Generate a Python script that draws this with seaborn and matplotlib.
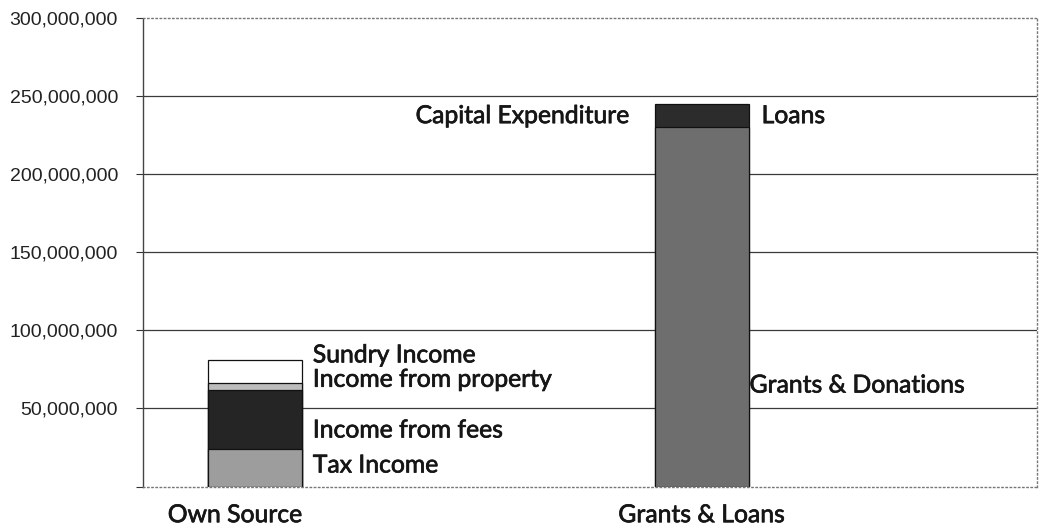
import matplotlib
matplotlib.use("Agg")
import matplotlib.pyplot as plt
import matplotlib.patheffects as pe
from matplotlib.transforms import ScaledTranslation
from matplotlib.ticker import FuncFormatter
import seaborn as sns
import pandas as pd

# Revenue sources, stacked per category (bottom segment first)
categories = ["Own Source", "Grants & Loans"]
own_labels = ["Tax Income", "Income from fees", "Income from property", "Sundry Income"]
own_values = [24_000_000, 38_000_000, 4_000_000, 15_000_000]
grant_labels = ["Grants & Donations", "Loans"]
grant_values = [230_000_000, 15_000_000]
y_ticks = [0, 50_000_000, 100_000_000, 150_000_000, 200_000_000, 250_000_000, 300_000_000]

own_colors = ["#9d9d9d", "#252525", "#bcbcbc", "#ffffff"]
grant_colors = ["#6e6e6e", "#2c2c2c"]

sns.set_theme(style="white")
plt.rcParams["font.family"] = ["Liberation Sans", "DejaVu Sans"]
thicken = [pe.withStroke(linewidth=0.5, foreground="#161616")]
label_font = dict(family="Lato", fontsize=17.8, fontweight="normal", color="#161616",
                  path_effects=thicken)

fig = plt.figure(figsize=(10.39, 5.30), dpi=100)
ax = fig.add_axes([0.1376, 0.082, 0.8604, 0.884])

# Build long-form table of cumulative tops for each segment
rows = []
for cat, labels, values, colors in [
    (categories[0], own_labels, own_values, own_colors),
    (categories[1], grant_labels, grant_values, grant_colors),
]:
    top = 0
    for lab, val, col in zip(labels, values, colors):
        top += val
        rows.append(dict(category=cat, segment=lab, top=top, bottom=top - val, color=col))
df = pd.DataFrame(rows)

# Draw tallest cumulative segments first so lower segments sit on top
for _, r in df.sort_values("top", ascending=False).iterrows():
    sns.barplot(
        x=[r["category"]], y=[r["top"]], order=categories, ax=ax,
        color=r["color"], saturation=1, width=0.21,
        edgecolor="#111111", linewidth=0.9,
    )

ax.set_ylim(0, 300_000_000)
ax.set_xlim(-0.25, 1.75)
ax.set_xlabel("")
ax.set_ylabel("")

ax.set_yticks(y_ticks)
ax.yaxis.set_major_formatter(FuncFormatter(lambda v, p: "" if v == 0 else f"{v:,.0f}"))
ax.tick_params(axis="y", which="major", left=True, length=5, width=0.8, color="#333333",
               labelsize=14, pad=13, labelcolor="#222222")
ax.tick_params(axis="x", length=0, pad=12)

ax.set_xticks([0, 1])
ax.set_xticklabels(categories, **label_font)
xl = ax.get_xticklabels()
xl[0].set_transform(xl[0].get_transform() + ScaledTranslation(-19.5 / 100, 0, fig.dpi_scale_trans))

# Horizontal gridlines at interior ticks
for v in y_ticks[1:-1]:
    ax.axhline(v, color="#3a3a3a", linewidth=0.9, zorder=0)

for side in ["left", "right", "top", "bottom"]:
    ax.spines[side].set_visible(True)
    ax.spines[side].set_linestyle((0, (1, 2)))
    ax.spines[side].set_color("#777777")
    ax.spines[side].set_linewidth(1.0)
ax.spines["left"].set_color("#444444")
ax.spines["left"].set_linestyle((0, (1, 1)))

# Segment labels
own_label_y = [13_800_000, 36_200_000, 68_700_000, 84_300_000]
for lab, yv in zip(own_labels, own_label_y):
    ax.text(0.13, yv, lab, ha="left", va="center", **label_font)

ax.text(1.107, 65_000_000, grant_labels[0], ha="left", va="center", **label_font)
loans_mid = grant_values[0] + grant_values[1] / 2
ax.text(1.134, loans_mid, grant_labels[1], ha="left", va="center", **label_font)
ax.text(0.839, loans_mid, "Capital Expenditure", ha="right", va="center", **label_font)

fig.savefig("out.png", dpi=100)
